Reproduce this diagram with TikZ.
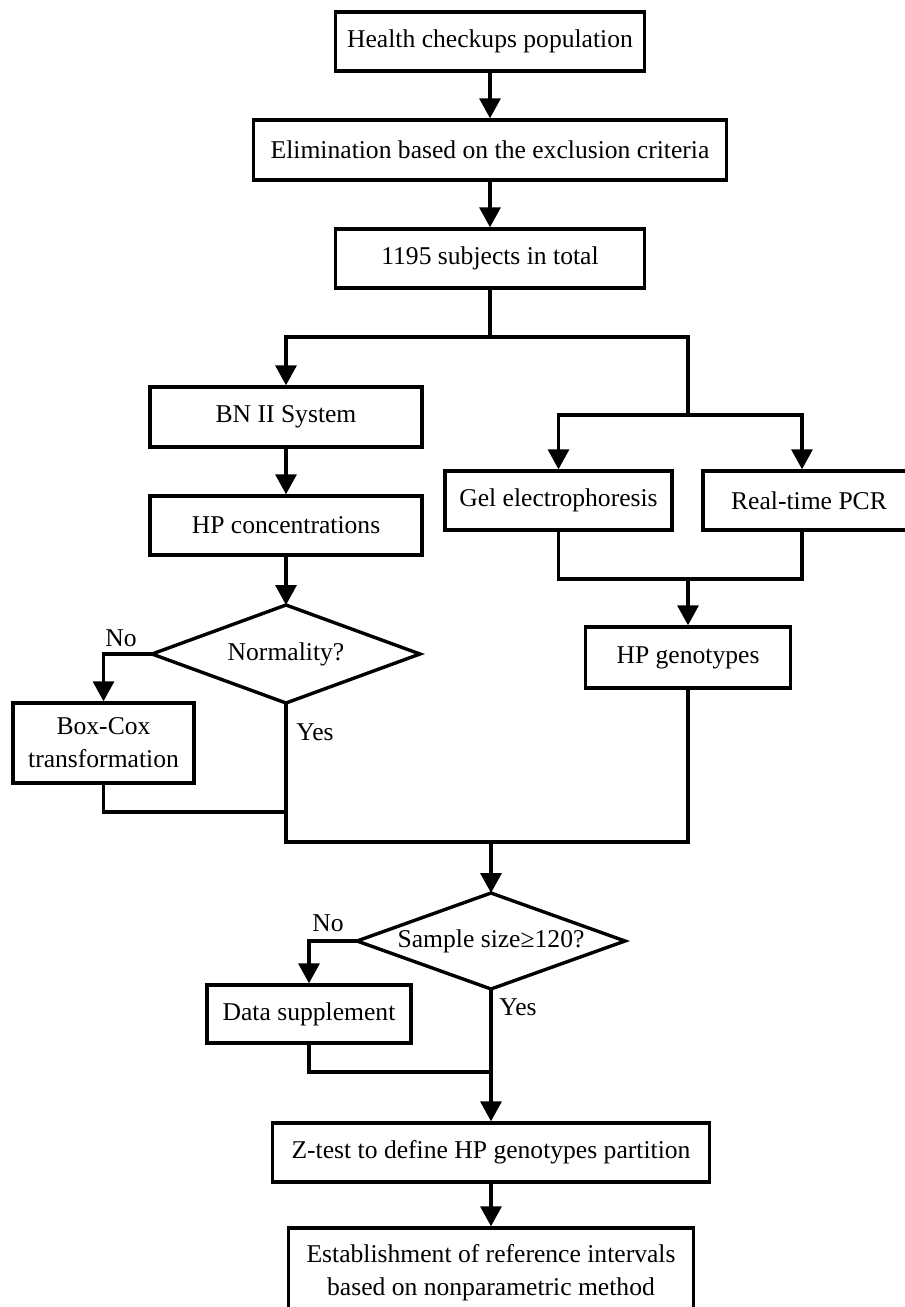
\documentclass[tikz,border=0pt]{standalone}
\usepackage{fontspec}
\setmainfont{Liberation Serif}
\usetikzlibrary{arrows.meta, shapes.geometric}

\begin{document}
\begin{tikzpicture}[x=0.5pt, y=-0.5pt, line width=1.7pt,
  font=\fontsize{12.8}{16.5}\selectfont,
  box/.style={draw, rectangle, inner sep=0pt, align=center},
  decide/.style={draw, diamond, aspect=2.8, inner sep=0pt, outer sep=0pt, minimum width=134pt, minimum height=49pt},
  arr/.style={-{Triangle[width=10.5pt,length=10pt]}}]
\useasboundingbox (0,0) rectangle (905,1307);
\clip (0,0) rectangle (905,1307);
% boxes, placed at pixel positions
\node[box, minimum width=154.5pt, minimum height=29.5pt] (hcp) at (490,41.5) {Health checkups population};
\node[box, minimum width=236.5pt, minimum height=30pt] (elim) at (490,150) {Elimination based on the exclusion criteria};
\node[box, minimum width=154.5pt, minimum height=29.5pt] (total) at (490,258.5) {1195 subjects in total};
\node[box, minimum width=136pt, minimum height=30pt] (bn) at (286,417) {BN II System};
\node[box, minimum width=136pt, minimum height=29.5pt] (hpc) at (286,525.5) {HP concentrations};
\node[decide] (norm) at (286,654) {Normality?};
\node[box, minimum width=90.5pt, minimum height=40pt] (boxcox) at (103.5,743) {Box-Cox\\transformation};
\node[box, minimum width=113.5pt, minimum height=29.5pt] (gel) at (558.5,500.5) {Gel electrophoresis};
\node[box, minimum width=106pt, minimum height=29.5pt] (pcr) at (809,500.5) {Real-time PCR};
\node[box, minimum width=102.5pt, minimum height=30.5pt] (geno) at (688,657.5) {HP genotypes};
\node[decide, minimum height=48pt] (sample) at (491,941) {Sample size≥120?};
\node[box, minimum width=102pt, minimum height=29pt] (datas) at (309,1014) {Data supplement};
\node[box, minimum width=218.5pt, minimum height=29.5pt] (ztest) at (491,1152.5) {Z-test to define HP genotypes partition};
\node[box, minimum width=202.5pt, minimum height=45pt] (estab) at (491,1273) {Establishment of reference intervals\\based on nonparametric method};
% branch labels
\node (no1) at (121,638) {No};
\node (yes1) at (315,732) {Yes};
\node (no2) at (328,923) {No};
\node (yes2) at (518,1007) {Yes};
% joints
\coordinate (j1) at (490,337);
\coordinate (j2) at (688,415);
\coordinate (j3) at (688,579);
\coordinate (j4) at (286,842);
\coordinate (j5) at (688,842);
\coordinate (j6) at (491,842);
\coordinate (j7) at (286,812);
\coordinate (j8) at (491,1072);
% connectors
\draw[arr] (hcp) -- (elim);
\draw[arr] (elim) -- (total);
\draw (total) -- (j1);
\draw[arr] (j1) -| (bn);
\draw (j1) -| (j2);
\draw[arr] (j2) -| (gel);
\draw[arr] (j2) -| ([xshift=-3.5pt]pcr.north);
\draw (gel) |- (j3) -| ([xshift=-3.5pt]pcr.south);
\draw[arr] (j3) -- (geno);
\draw[arr] (bn) -- (hpc);
\draw[arr] (hpc) -- (norm);
\draw[arr] (norm.west) -| (boxcox);
\draw (norm) -- (j4) -- (j5) -- (geno);
\draw (boxcox) |- (j7);
\draw[arr] (j6) -- (sample);
\draw[arr] (sample.west) -| (datas);
\draw[arr] (sample) -- (ztest);
\draw (datas) |- (j8);
\draw[arr] (ztest) -- (estab);
\end{tikzpicture}
\end{document}
